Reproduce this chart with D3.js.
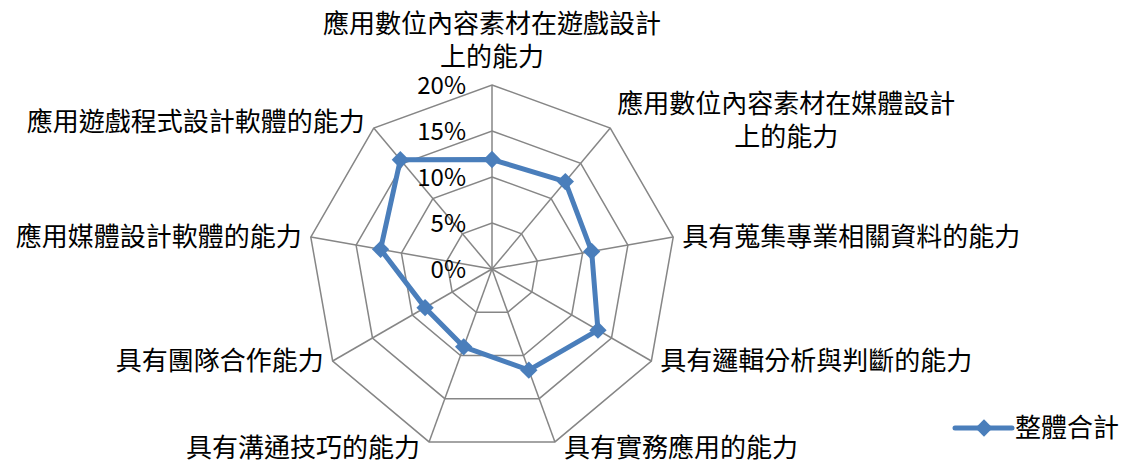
<!DOCTYPE html>
<html>
<head>
<meta charset="utf-8">
<script src="https://cdn.jsdelivr.net/npm/d3@7"></script>
<style>
body { margin: 0; background: white; }
text { font-family: "Noto Sans CJK TC", "Noto Sans", sans-serif; fill: #000; }
</style>
</head>
<body>
<div id="chart"></div>
<script>
var svgWidth = 1131
var svgHeight = 469
var cx = 492
var cy = 269
var radius = 184

// axis labels, clockwise from the top; "\n" marks a wrapped label
var categories = [
	"應用數位內容素材在遊戲設計\n上的能力",
	"應用數位內容素材在媒體設計\n上的能力",
	"具有蒐集專業相關資料的能力",
	"具有邏輯分析與判斷的能力",
	"具有實務應用的能力",
	"具有溝通技巧的能力",
	"具有團隊合作能力",
	"應用媒體設計軟體的能力",
	"應用遊戲程式設計軟體的能力"]
var values = [0.119, 0.124, 0.110, 0.133, 0.117, 0.090, 0.084, 0.123, 0.155]
var ticks = [0, 0.05, 0.10, 0.15, 0.20]
var seriesName = "整體合計"

var lineColor = "#4a7ebb"
var gridColor = "#868686"

var svg = d3.select("div#chart")
	.append("svg")
	.attr("width", svgWidth)
	.attr("height", svgHeight)

var rScale = d3.scaleLinear()
	.domain([0, 0.20])
	.range([0, radius])

var angleStep = 2 * Math.PI / categories.length

var point = function(i, v) {
	var a = i * angleStep
	return [cx + rScale(v) * Math.sin(a), cy - rScale(v) * Math.cos(a)]
}

// grid rings
var gridGroup = svg.append("g").attr("id", "grid")
gridGroup.selectAll("polygon")
	.data(ticks.slice(1))
	.enter()
	.append("polygon")
	.attr("points", function(t) {
		return categories.map(function(c, i) { return point(i, t).join(",") }).join(" ")
	})
	.attr("fill", "none")
	.attr("stroke", gridColor)
	.attr("stroke-width", 1.5)

// spokes
gridGroup.selectAll("line")
	.data(categories)
	.enter()
	.append("line")
	.attr("x1", cx)
	.attr("y1", cy)
	.attr("x2", function(d, i) { return point(i, 0.20)[0] })
	.attr("y2", function(d, i) { return point(i, 0.20)[1] })
	.attr("stroke", gridColor)
	.attr("stroke-width", 1.5)

// tick labels along the top spoke
svg.append("g").selectAll("text")
	.data(ticks)
	.enter()
	.append("text")
	.attr("x", cx - 26)
	.attr("y", function(t) { return cy - rScale(t) + 9 })
	.attr("text-anchor", "end")
	.style("font-size", "24px")
	.text(function(t) { return d3.format(".0%")(t) })

// axis labels
var labelGroup = svg.append("g").attr("id", "labels")
var fontSize = 26
categories.forEach(function(c, i) {
	var p = point(i, 0.20)
	var lines = c.split("\n")
	var s = Math.sin(i * angleStep)
	var t = labelGroup.append("text").style("font-size", fontSize + "px")
	if (lines.length > 1) {
		// wrapped label: both lines centred on the wider first line
		t.attr("text-anchor", "middle")
		var lastY
		if (Math.abs(s) < 0.1) {
			lastY = p[1] - 28
		} else {
			lastY = p[1] + 9
		}
		var tmp = labelGroup.append("text").style("font-size", fontSize + "px").text(lines[0])
		var w = tmp.node().getComputedTextLength()
		tmp.remove()
		var x = Math.abs(s) < 0.1 ? p[0] : p[0] + 7 + w / 2
		lines.forEach(function(l, k) {
			t.append("tspan")
				.attr("x", x)
				.attr("y", lastY - (lines.length - 1 - k) * 33 + 9)
				.text(l)
		})
	} else {
		var dy = 0
		if (Math.cos(i * angleStep) < -0.9) dy = 6
		if (Math.cos(i * angleStep) > 0.7) dy = -6
		t.attr("x", s > 0 ? p[0] + 9 : p[0] - 9)
			.attr("y", p[1] + dy + 9)
			.attr("text-anchor", s > 0 ? "start" : "end")
			.text(c)
	}
})

// series
var pts = values.map(function(v, i) { return point(i, v) })
svg.append("path")
	.attr("d", d3.line().curve(d3.curveLinearClosed)(pts))
	.attr("fill", "none")
	.attr("stroke", lineColor)
	.attr("stroke-width", 5)
	.attr("stroke-linejoin", "round")

var diamond = d3.symbol().type(d3.symbolSquare).size(150)
svg.append("g").selectAll("path")
	.data(pts)
	.enter()
	.append("path")
	.attr("d", diamond)
	.attr("transform", function(d) { return "translate(" + d[0] + "," + d[1] + ") rotate(45)" })
	.attr("fill", lineColor)

// legend
var legend = svg.append("g").attr("transform", "translate(955,428)")
legend.append("line")
	.attr("x1", 0).attr("x2", 57)
	.attr("stroke", lineColor)
	.attr("stroke-width", 5)
	.attr("stroke-linecap", "round")
legend.append("path")
	.attr("d", diamond)
	.attr("transform", "translate(29,0) rotate(45)")
	.attr("fill", lineColor)
legend.append("text")
	.attr("x", 60)
	.attr("y", 9)
	.style("font-size", "26px")
	.text(seriesName)
</script>
</body>
</html>
